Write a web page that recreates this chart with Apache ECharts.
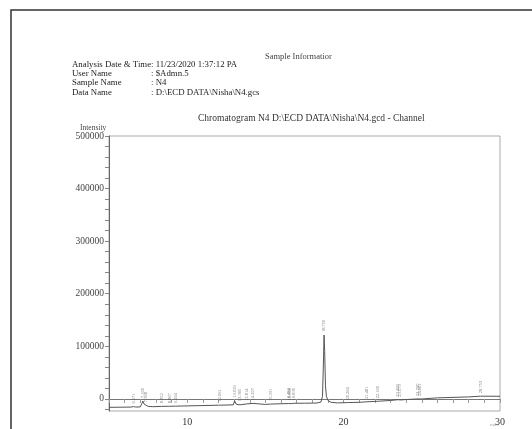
<!DOCTYPE html>
<html>
<head>
<meta charset="utf-8">
<title>Chromatogram N4</title>
<script src="https://cdn.jsdelivr.net/npm/echarts@6/dist/echarts.min.js"></script>
<style>
  html, body { margin: 0; padding: 0; background: #fff; }
  #chart { width: 532px; height: 429px; }
</style>
</head>
<body>
<div id="chart"></div>
<script>
// Detector trace: retention time (min) and intensity
const traceTime = [
  5.0, 6.4, 6.57, 6.7, 7.0, 7.10, 7.16, 7.25, 7.37, 7.5, 7.8,
  8.35, 8.45, 8.87, 8.95, 9.26, 9.35, 10.0, 12.0, 12.06, 12.15,
  12.95, 13.03, 13.12, 13.25, 13.37, 13.45, 13.81, 13.9, 14.21, 14.3,
  15.0, 15.33, 15.42, 16.48, 16.57, 16.65, 16.83, 16.92, 17.5, 18.3,
  18.55, 18.65, 18.72, 18.75, 18.79, 18.84, 18.9, 19.0, 19.2, 19.6,
  20.26, 20.35, 21.0, 21.48, 21.57, 22.16, 22.25, 23.0, 23.47, 23.57,
  23.65, 24.0, 24.76, 24.86, 24.95, 26.0, 28.0, 28.75, 28.85, 30.0
];
const traceIntensity = [
  -16000, -15600, -14600, -15500, -15200, -9000, -4000, -10000, -12000, -14200, -14800,
  -14200, -14700, -14000, -14500, -13800, -14300, -13300, -12000, -11000, -11900,
  -11300, -3500, -9500, -11000, -10000, -11000, -9500, -10800, -8500, -10500,
  -10500, -9800, -10300, -8800, -8500, -9000, -8300, -8800, -8200, -7800,
  -6000, 5000, 80000, 121500, 90000, 25000, 5000, -3000, -6500, -7600,
  -7000, -7500, -6500, -5500, -6000, -4500, -4800, -3000, -1500, -1400,
  -2000, -1200, 0, 200, -200, 2000, 3800, 5200, 4800, 5000
];

// Integrated peaks: retention time and apex intensity
const peakTime = [
  6.571, 7.160, 7.368, 8.352, 8.867, 9.264, 12.061, 13.029, 13.365,
  13.814, 14.207, 15.331, 16.484, 16.566, 16.830, 18.750, 20.264,
  21.481, 22.160, 23.466, 23.573, 24.760, 24.861, 28.753
];
const peakApex = [
  -14600, -4000, -12000, -14200, -14000, -13800, -11000, -3500, -10000,
  -9500, -8500, -9800, -8800, -8500, -8300, 121500, -7000,
  -5500, -4500, -1500, -1400, 0, 200, 5200
];

// Axis ticks and labels
const xLabelValues = [10, 20, 30];
const yLabelValues = [0, 100000, 200000, 300000, 400000, 500000];
const yTickValues = [];
for (let v = -20000; v <= 500000; v += 20000) yTickValues.push(v);

const headerRows = [
  ['Analysis Date & Time', ': 11/23/2020 1:37:12 PA'],
  ['User Name', ': $Admn.5'],
  ['Sample Name', ': N4'],
  ['Data Name', ': D:\\ECD DATA\\Nisha\\N4.gcs']
];

const serif = '"Liberation Serif", "DejaVu Serif", serif';
const chart = echarts.init(document.getElementById('chart'), null, { renderer: 'canvas' });

const graphics = [
  // page frame
  { type: 'polyline', shape: { points: [[11, 440], [11, 10], [540, 10]] },
    style: { stroke: '#333', lineWidth: 1.5, fill: null } },
  { type: 'text', left: 265, top: 52,
    style: { text: 'Sample Informatior', font: '8.5px ' + serif, fill: '#444' } },
  { type: 'text', left: 198, top: 113,
    style: { text: 'Chromatogram N4 D:\\ECD DATA\\Nisha\\N4.gcd - Channel', font: '9.5px ' + serif, fill: '#333' } },
  { type: 'text', left: 80, top: 124,
    style: { text: 'Intensity', font: '7.5px ' + serif, fill: '#444' } },
  { type: 'text', left: 490, top: 422,
    style: { text: 'min', font: '5px ' + serif, fill: '#aaa' } }
];
headerRows.forEach(function (row, i) {
  const y = 60 + i * 9.3;
  if (i === 0) {
    graphics.push({ type: 'text', left: 72, top: y,
      style: { text: row[0] + row[1], font: '8.8px ' + serif, fill: '#222' } });
  } else {
    graphics.push({ type: 'text', left: 72, top: y,
      style: { text: row[0], font: '8.8px ' + serif, fill: '#222' } });
    graphics.push({ type: 'text', left: 151, top: y,
      style: { text: row[1], font: '8.8px ' + serif, fill: '#222' } });
  }
});

chart.setOption({
  animation: false,
  backgroundColor: '#fff',
  graphic: graphics,
  grid: {
    left: 109, right: 32, top: 136, bottom: 18,
    show: true, borderColor: '#aaa', borderWidth: 1, backgroundColor: 'transparent'
  },
  xAxis: {
    type: 'value', min: 5, max: 30, interval: 1,
    axisLine: { show: true, lineStyle: { color: '#777', width: 1 } },
    axisTick: { show: true, length: 4, lineStyle: { color: '#999' } },
    axisLabel: {
      customValues: xLabelValues, margin: 6,
      fontFamily: serif, fontSize: 10, color: '#333'
    },
    splitLine: { show: false }
  },
  yAxis: {
    type: 'value', min: -23000, max: 500000,
    axisLine: { show: true, onZero: false, lineStyle: { color: '#666', width: 1 } },
    axisTick: { show: true, customValues: yTickValues, length: 4, lineStyle: { color: '#888' } },
    axisLabel: {
      customValues: yLabelValues, margin: 5,
      fontFamily: serif, fontSize: 9.5, color: '#444',
      formatter: function (v) { return String(v); }
    },
    splitLine: { show: false }
  },
  series: [
    {
      type: 'line',
      data: traceTime.map(function (t, i) { return [t, traceIntensity[i]]; }),
      showSymbol: false,
      lineStyle: { color: '#555', width: 1 },
      silent: true
    },
    {
      type: 'scatter',
      data: peakTime.map(function (t, i) { return [t, peakApex[i]]; }),
      symbolSize: 0,
      silent: true,
      label: {
        show: true,
        position: 'top',
        distance: 3,
        rotate: 90,
        align: 'left',
        verticalAlign: 'middle',
        fontFamily: serif,
        fontSize: 4.5,
        color: '#555',
        formatter: function (p) { return p.value[0].toFixed(3); }
      }
    }
  ]
});
</script>
</body>
</html>
